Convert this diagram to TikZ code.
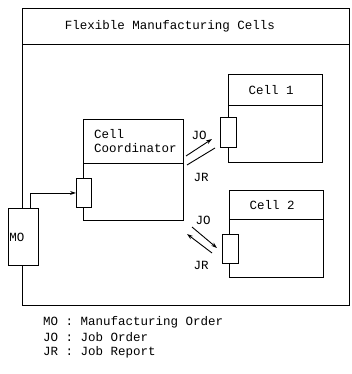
\documentclass[tikz,border=0pt]{standalone}
\usepackage{fontspec}
\setmainfont{Liberation Mono}
\usetikzlibrary{arrows.meta}
\begin{document}
\begin{tikzpicture}[x=1pt,y=-1pt,
  every node/.style={font=\fontsize{12.5}{15}\selectfont},
  ln/.style={line width=0.9pt},
  box/.style={draw,ln,inner sep=0pt,anchor=north west},
  port/.style={box,fill=white},
  lbl/.style={inner sep=0pt},
  arr/.style={ln,-{Stealth[length=6pt,width=4pt]}}]
\useasboundingbox (0,0) rectangle (351,374);
% outer frame
\node[box,minimum width=327pt,minimum height=297pt] (frame) at (22,8) {};
\coordinate (fsepL) at (22,44);
\coordinate (fsepR) at (349,44);
\draw[ln] (fsepL) -- (fsepR);
\node[lbl] (ftitle) at (170,26) {Flexible Manufacturing Cells};
% cell coordinator
\node[box,minimum width=100pt,minimum height=101pt] (coord) at (83,119) {};
\coordinate (csepL) at (83,163);
\coordinate (csepR) at (183,163);
\draw[ln] (csepL) -- (csepR);
\node[lbl,anchor=north west,align=left] (ctitle) at (94,129) {Cell\\[-1pt]Coordinator};
\node[port,minimum width=15pt,minimum height=29pt] (cport) at (76,178) {};
% cell 1
\node[box,minimum width=94pt,minimum height=88pt] (cell1) at (228,74) {};
\coordinate (s1L) at (228,105);
\coordinate (s1R) at (322,105);
\draw[ln] (s1L) -- (s1R);
\node[lbl] (c1title) at (271,90) {Cell 1};
\node[port,minimum width=16pt,minimum height=30pt] (p1) at (220,117) {};
% cell 2
\node[box,minimum width=94pt,minimum height=87pt] (cell2) at (229,190) {};
\coordinate (s2L) at (229,219);
\coordinate (s2R) at (323,219);
\draw[ln] (s2L) -- (s2R);
\node[lbl] (c2title) at (272,205) {Cell 2};
\node[port,minimum width=16pt,minimum height=29pt] (p2) at (222,234) {};
% MO
\node[port,minimum width=30pt,minimum height=57pt] (mo) at (8,208) {};
\node[lbl] (molbl) at (17,237) {MO};
\coordinate (mostart) at (30,208);
\draw[arr] (mostart) |- (cport.west);
% arrows to cell 1
\coordinate (jo1a) at (186,156);
\coordinate (jo1b) at (212,139);
\draw[arr] (jo1a) -- (jo1b);
\coordinate (jr1a) at (215,148);
\coordinate (jr1b) at (187,165);
\draw[ln] (jr1a) -- (jr1b);
\node[lbl] (jo1) at (199,135) {JO};
\node[lbl] (jr1) at (201,177) {JR};
% arrows to cell 2
\coordinate (jo2a) at (192,227);
\coordinate (jo2b) at (217,248);
\draw[arr] (jo2a) -- (jo2b);
\coordinate (jr2a) at (212,253);
\coordinate (jr2b) at (187,234);
\draw[arr] (jr2a) -- (jr2b);
\node[lbl] (jo2) at (203,220) {JO};
\node[lbl] (jr2) at (201,265) {JR};
% legend
\node[lbl,anchor=west] (leg1) at (43,322) {MO : Manufacturing Order};
\node[lbl,anchor=west] (leg2) at (43,337) {JO : Job Order};
\node[lbl,anchor=west] (leg3) at (43,352) {JR : Job Report};
\end{tikzpicture}
\end{document}
